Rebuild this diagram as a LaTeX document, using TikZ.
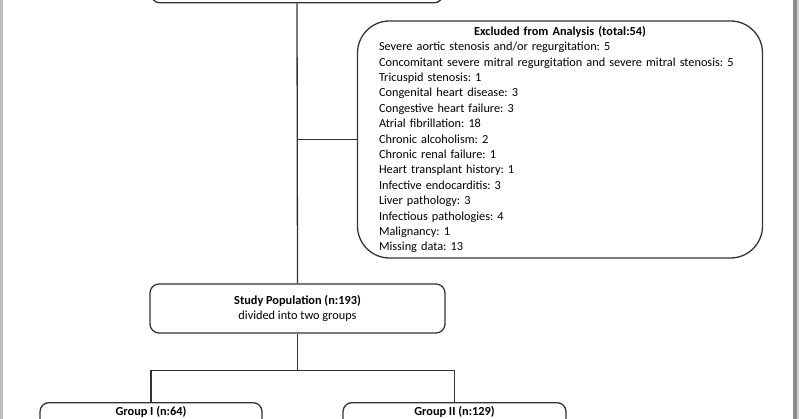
\documentclass[tikz,border=0pt]{standalone}
\usepackage{fontspec}
\setmainfont{Carlito}
\begin{document}
\frenchspacing
\begin{tikzpicture}[x=1pt,y=-1pt,
  line/.style={draw=black!80, line width=1.3pt},
  boxstyle/.style={line, fill=white, rounded corners=9pt},
  txt/.style={font=\fontsize{12.3}{15.4}\selectfont\frenchspacing, text=black}
]
\useasboundingbox (0,0) rectangle (800,419);
\begin{scope}
\clip (0,0) rectangle (800,419);
% frame edges
\fill[black!25] (0,0) rectangle (2.5,419);
\fill[black!45] (793,0) rectangle (797,419);
\fill[black!20] (797,0) rectangle (798.5,419);
% top box (mostly cut off)
\node[boxstyle, minimum width=292pt, minimum height=60pt, anchor=south] (top) at (297,3.5) {};
% excluded box
\node[line, rounded corners=32pt, txt, text width=362pt, align=left, minimum width=405pt, minimum height=237pt, inner xsep=10pt] (excl) at (560,139.5)
 {\makebox[\linewidth][c]{\bfseries Excluded from Analysis (total:54)}\\
 Severe aortic stenosis and/or regurgitation: 5\\
 Concomitant severe mitral regurgitation and severe mitral stenosis: 5\\
 Tricuspid stenosis: 1\\
 Congenital heart disease: 3\\
 Congestive heart failure: 3\\
 Atrial fibrillation: 18\\
 Chronic alcoholism: 2\\
 Chronic renal failure: 1\\
 Heart transplant history: 1\\
 Infective endocarditis: 3\\
 Liver pathology: 3\\
 Infectious pathologies: 4\\
 Malignancy: 1\\
 Missing data: 13};
% study population
\node[boxstyle, txt, align=center, minimum width=295pt, minimum height=49pt] (study) at (297.5,308.5)
 {\textbf{Study Population (n:193)}\\divided into two groups};
% groups
\node[boxstyle, txt, anchor=north, minimum width=222pt, text depth=40pt, inner ysep=4pt] (g1) at (151,402) {\textbf{Group I (n:64)}};
\node[boxstyle, txt, anchor=north, minimum width=223pt, text depth=40pt, inner ysep=4pt] (g2) at (454.5,402) {\textbf{Group II (n:129)}};
% connectors
\coordinate (j) at (top.south |- excl.west);
\coordinate (split) at (297.5,370.5);
\draw[line] (top.south) -- (study.north);
\draw[line] (j) -- (excl.west);
\draw[line] (study.south) -- (split);
\draw[line] (split) -| (g1.north);
\draw[line] (split) -| (g2.north);
\end{scope}
\end{tikzpicture}
\end{document}
